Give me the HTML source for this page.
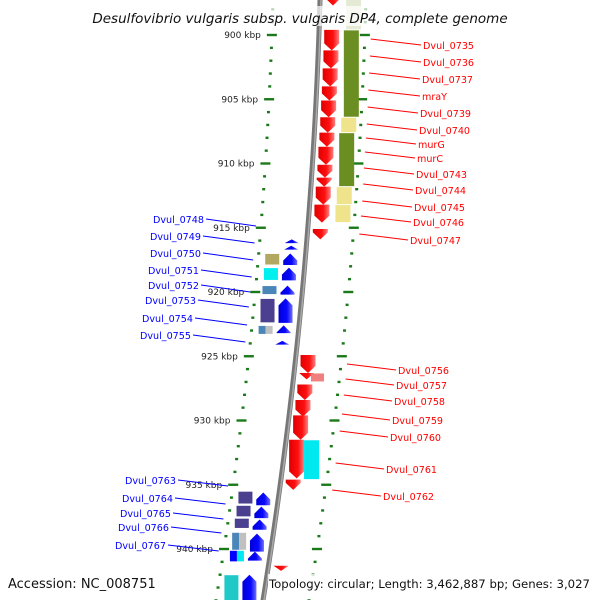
<!DOCTYPE html>
<html><head><meta charset="utf-8"><style>
html,body{margin:0;padding:0;background:#fff;}
svg{display:block;font-family:"DejaVu Sans","Liberation Sans",sans-serif;}
</style></head><body>
<svg id="map" width="600" height="600" viewBox="0 0 600 600">
<defs>
<linearGradient id="gRed" x1="0" x2="1"><stop offset="0" stop-color="#e00000"/><stop offset="0.6" stop-color="#ff1010"/><stop offset="1" stop-color="#ff8080"/></linearGradient>
<linearGradient id="gBlue" x1="0" x2="1"><stop offset="0" stop-color="#0000d8"/><stop offset="0.6" stop-color="#0808ff"/><stop offset="1" stop-color="#7070ff"/></linearGradient>
</defs>
<g id="layer"></g>
</svg>
<script>
// axis ticks (kbp)
const tickKbp = [900,905,910,915,920,925,930,935,940];
const tickLabels = ["900 kbp","905 kbp","910 kbp","915 kbp","920 kbp","925 kbp","930 kbp","935 kbp","940 kbp"];
// forward (red) genes, start/end kbp
const fwdStart = [896.9,899.6,901.2,902.6,904.0,905.1,906.4,907.6,908.7,910.1,911.1,911.8,913.2,915.1,924.9,926.3,927.2,928.4,929.6,931.5,934.6,941.3];
const fwdEnd   = [897.7,901.2,902.6,904.0,905.1,906.4,907.6,908.7,910.1,911.1,911.8,913.2,914.6,915.9,926.3,926.8,928.4,929.7,931.5,934.5,935.4,941.7];
// COG column next to forward genes
const cogStart = [897.2,899.6,906.4,907.6,911.8,913.2,926.3,931.5];
const cogEnd   = [899.6,906.4,907.6,911.8,913.2,914.6,927.0,934.6];
const cogColor = ["#e4ead4","#6b8e23","#efe38c","#6b8e23","#efe38c","#efe38c","#f08080","#00e8f0"];
// reverse (blue) genes
const revStart = [915.9,916.4,917.0,918.1,919.5,920.5,922.6,923.8,935.6,936.7,937.7,938.8,940.2,942.0];
const revEnd   = [916.2,916.7,917.9,919.1,920.2,922.4,923.2,924.1,936.6,937.6,938.5,940.2,940.9,944.6];
// COG column for reverse genes
const rcogStart = [917.0,918.1,919.5,920.5,922.6,935.5,936.6,937.6,938.7,940.1,942.0];
const rcogEnd   = [917.9,919.1,920.2,922.4,923.3,936.5,937.5,938.4,940.1,941.0,944.6];
const rcogColor = ["#b3a862","#00f0f0","#4a86b8","#4b3f8f","#4a86b8|#c0c0c0","#4b3f8f","#4b3f8f","#4b3f8f","#4a86b8|#c0c0c0","#0000ff|#00e8f0","#20c8c8"];
// labels
const fwdNames = ["Dvul_0735","Dvul_0736","Dvul_0737","mraY","Dvul_0739","Dvul_0740","murG","murC","Dvul_0743","Dvul_0744","Dvul_0745","Dvul_0746","Dvul_0747","Dvul_0756","Dvul_0757","Dvul_0758","Dvul_0759","Dvul_0760","Dvul_0761","Dvul_0762"];
const fwdGeneIdx = [1,2,3,4,5,6,7,8,9,10,11,12,13,14,15,16,17,18,19,20];
const fwdLabelY = [45,62,79,96,113,130,144,158,174,190,207,222,240,370,385,401,420,437,469,496];
const fwdLabelX = [423,423,422,422,420,419,418,417,416,415,414,413,410,398,396,394,392,390,386,383];
const revNames = ["Dvul_0748","Dvul_0749","Dvul_0750","Dvul_0751","Dvul_0752","Dvul_0753","Dvul_0754","Dvul_0755","Dvul_0763","Dvul_0764","Dvul_0765","Dvul_0766","Dvul_0767"];
const revGeneIdx = [0,1,2,3,4,5,6,7,8,9,10,11,12];
const revLabelY = [219,236,253,270,285,300,318,335,480,498,513,527,545];
const revLabelX = [204,201,201,199,199,196,193,191,176,173,171,169,166];

const NS = "http://www.w3.org/2000/svg";
const layer = document.getElementById("layer");
function yOf(k){ return 35 + (k-900)*12.85; }
function bx(y){ return 320 - 0.0281*y - 0.0001114*y*y; }
function mk(tag, attrs, parent){ const e=document.createElementNS(NS,tag); for(const k in attrs) e.setAttribute(k,attrs[k]); (parent||layer).appendChild(e); return e; }

// backbone
const bpts=[]; for(let y=-5;y<=605;y+=10) bpts.push([bx(y),y]);
const bb = mk("polyline",{points:bpts.map(p=>p.join(",")).join(" "),fill:"none",stroke:"#777","stroke-width":5});


const bb2 = mk("polyline",{points:bpts.map(p=>(p[0]+1)+","+p[1]).join(" "),fill:"none",stroke:"#aaa","stroke-width":1.5});



// dotted tick rows
for(let k=897;k<=944.5;k+=1){
  const y=yOf(k); const major = Math.abs(k%5)<0.01;
  [-47,46].forEach(off=>{
    const x=bx(y)+off;
    const t = mk("rect",{x:major?x-5:x-1.5,y:y-1.2,width:major?10:3,height:2.4,fill:"#1a7a1a"});
    
    
  });
}
tickKbp.forEach((k,i)=>{
  const y=yOf(k);
  const t=mk("text",{x:bx(y)-58,y:y+3,"font-size":9,"text-anchor":"end",fill:"#222"});
  t.textContent=tickLabels[i];
  
  
});

function arrow(k0,k1,off,w,fill,down){
  const y0=yOf(k0), y1=yOf(k1); const cx=bx((y0+y1)/2)+off;
  const len=y1-y0; const h=Math.min(7,len);
  let pts;
  if(down) pts=[[cx-w/2,y0],[cx+w/2,y0],[cx+w/2,y1-h],[cx,y1],[cx-w/2,y1-h]];
  else pts=[[cx-w/2,y1],[cx+w/2,y1],[cx+w/2,y0+h],[cx,y0],[cx-w/2,y0+h]];
  return mk("polygon",{points:pts.map(p=>p.join(",")).join(" "),fill:fill});
}
fwdStart.forEach((s,i)=>{
  const a=arrow(s,fwdEnd[i],13,15,"url(#gRed)",true);
  
  
});
revStart.forEach((s,i)=>{
  const a=arrow(s,revEnd[i],-15,14,"url(#gBlue)",false);
  
  
});
function box(k0,k1,off,w,color){
  const y0=yOf(k0), y1=yOf(k1); const cx=bx((y0+y1)/2)+off;
  const parts=color.split("|");
  parts.forEach((c,j)=>{
    const r=mk("rect",{x:cx-w/2+j*w/parts.length,y:y0+0.5,width:w/parts.length,height:Math.max(1,y1-y0-1),fill:c});
    
    
  });
}
cogStart.forEach((s,i)=>{ box(s,cogEnd[i], i<6?34:(i==6?24:28), i==6?13:15, cogColor[i]); });
rcogStart.forEach((s,i)=>{ box(s,rcogEnd[i],-33,14,rcogColor[i]); });

// labels
fwdNames.forEach((n,i)=>{
  const g=fwdGeneIdx[i]; const gy=yOf((fwdStart[g]+fwdEnd[g])/2);
  const ly=fwdLabelY[i], lx=fwdLabelX[i];
  const l=mk("line",{x1:bx(gy)+52,y1:ly-6,x2:lx-2,y2:ly,stroke:"#f00","stroke-width":1});
  
  
  const t=mk("text",{x:lx,y:ly+4,"font-size":9.6,fill:"#f00"});
  t.textContent=n;
  
  
});
revNames.forEach((n,i)=>{
  const gy=revLabelY[i]+ (i<8?7:6);
  const ly=revLabelY[i], lx=revLabelX[i];
  const l=mk("line",{x1:lx+2,y1:ly,x2:bx(gy)-52,y2:gy,stroke:"#00f","stroke-width":1});
  
  
  const t=mk("text",{x:lx,y:ly+4,"font-size":9.6,fill:"#00f","text-anchor":"end"});
  t.textContent=n;
  
  
});

// title & footer
const tb=mk("rect",{x:88,y:6,width:424,height:20,fill:"#fff","fill-opacity":0.7});


const title=mk("text",{x:300,y:23,"font-size":13.5,"font-style":"italic","text-anchor":"middle",fill:"#111"});
title.textContent="Desulfovibrio vulgaris subsp. vulgaris DP4, complete genome";


const fb=mk("rect",{x:268,y:574,width:326,height:19,fill:"#fff","fill-opacity":0.8});


const acc=mk("text",{x:8,y:588,"font-size":13,fill:"#111"});
acc.textContent="Accession: NC_008751";


const topo=mk("text",{x:590,y:588,"font-size":11.7,fill:"#111","text-anchor":"end"});
topo.textContent="Topology: circular; Length: 3,462,887 bp; Genes: 3,027";


</script>
</body></html>
